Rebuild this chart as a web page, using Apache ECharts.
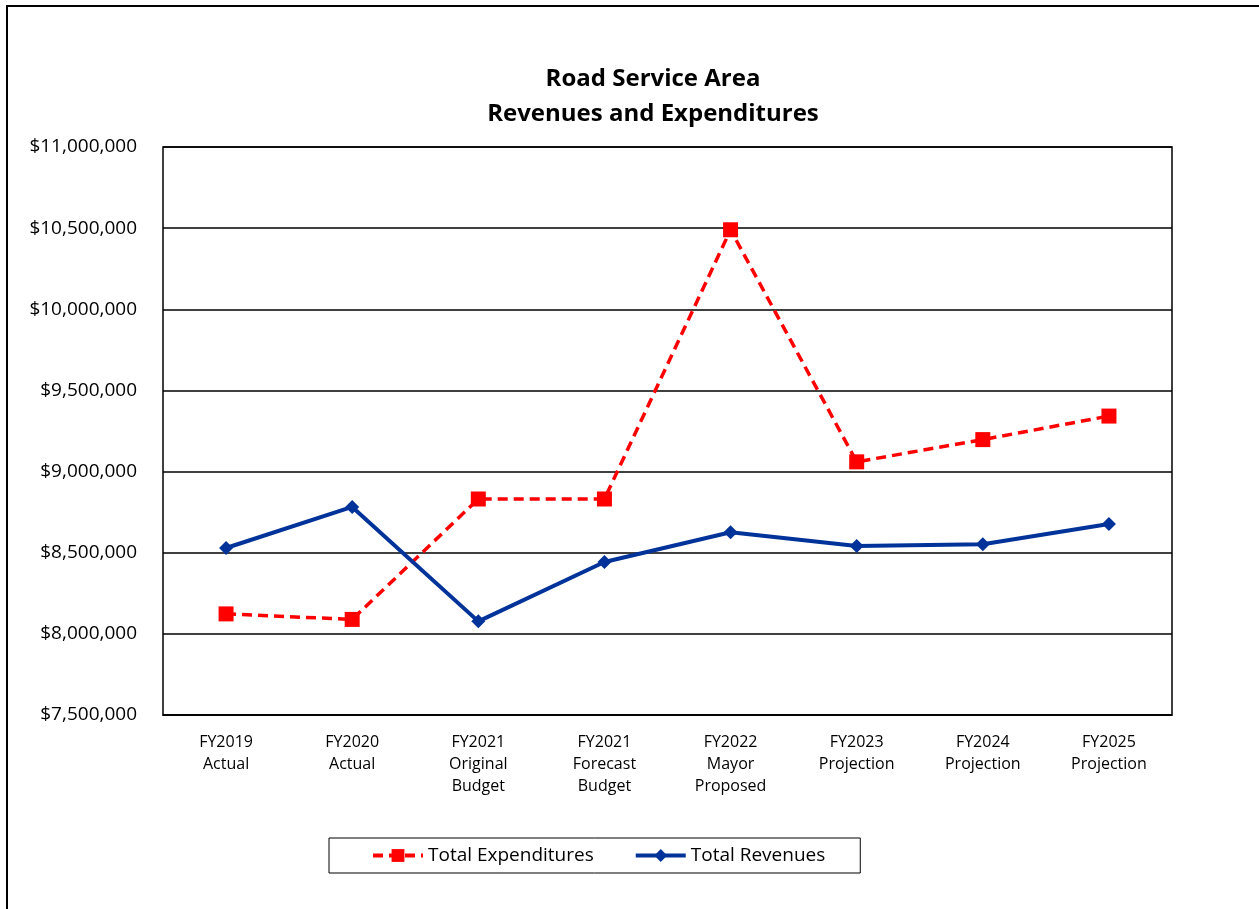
<!DOCTYPE html>
<html><head><meta charset="utf-8">
<script src="https://cdn.jsdelivr.net/npm/echarts@6/dist/echarts.min.js"></script>
<style>html,body{margin:0;padding:0;background:#fff}#c{width:1259px;height:909px}</style>
</head><body><div id="c"></div>
<script>
const categories = ['FY2019\nActual','FY2020\nActual','FY2021\nOriginal\nBudget','FY2021\nForecast\nBudget','FY2022\nMayor\nProposed','FY2023\nProjection','FY2024\nProjection','FY2025\nProjection'];
const totalExpenditures = [8123000, 8089000, 8831000, 8831000, 10490000, 9060000, 9197000, 9342000];
const totalRevenues = [8529000, 8782000, 8077000, 8443000, 8626000, 8541000, 8552000, 8677000];
const yMin = 7500000, yMax = 11000000, yStep = 500000;
const FONT = '"Open Sans", "Noto Sans", sans-serif';

const chart = echarts.init(document.getElementById('c'), null, {renderer:'canvas'});
chart.setOption({
  animation:false,
  backgroundColor:'#fff',
  textStyle:{fontFamily:FONT},
  graphic:[{type:'rect',shape:{x:7,y:6,width:1300,height:950},style:{fill:'none',stroke:'#000',lineWidth:2},silent:true,z:-1}],
  title:{text:'Road Service Area\nRevenues and Expenditures',left:648,top:57,textAlign:'center',
    textStyle:{fontFamily:FONT,fontWeight:'bold',fontSize:24,lineHeight:35,color:'#000'}},
  grid:{left:163,right:87,top:147,bottom:194,show:true,borderColor:'#000',borderWidth:1.5,containLabel:false},
  legend:{bottom:36,left:329,itemGap:40,itemWidth:50,itemHeight:16,
    padding:[8,35,8,42],
    borderColor:'#000',borderWidth:1,
    textStyle:{fontFamily:FONT,fontSize:19,color:'#000'},
    data:[{name:'Total Expenditures',lineStyle:{width:4}},{name:'Total Revenues',lineStyle:{width:4}}]},
  xAxis:{type:'category',data:categories,boundaryGap:true,
    axisLine:{show:true,lineStyle:{color:'#000',width:1.5}},axisTick:{show:false},
    axisLabel:{interval:0,fontFamily:FONT,fontSize:16,lineHeight:22,color:'#000',margin:16}},
  yAxis:{type:'value',min:yMin,max:yMax,interval:yStep,
    axisLine:{show:false},axisTick:{show:false},
    splitLine:{lineStyle:{color:'#000',width:1.5}},
    axisLabel:{fontFamily:FONT,fontSize:19,color:'#000',margin:26,
      formatter:v=>'$'+v.toLocaleString('en-US')}},
  series:[
    {name:'Total Expenditures',type:'line',data:totalExpenditures,symbol:'rect',symbolSize:15,
      itemStyle:{color:'#ff0000'},lineStyle:{color:'#ff0000',width:3.5,type:[10,6]},z:3},
    {name:'Total Revenues',type:'line',data:totalRevenues,symbol:'diamond',symbolSize:14,
      itemStyle:{color:'#003399'},lineStyle:{color:'#003399',width:4},z:4}
  ]
});
</script></body></html>
